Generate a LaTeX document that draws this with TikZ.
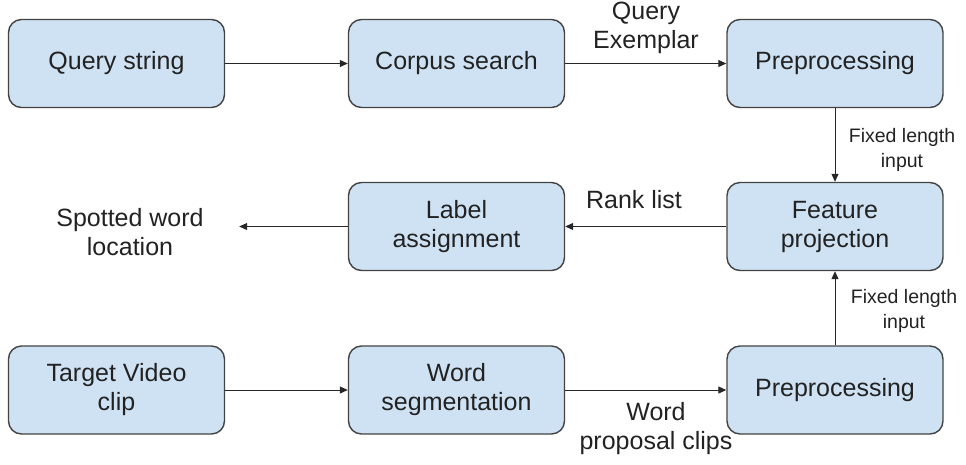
\documentclass[tikz,border=0pt]{standalone}
\usepackage{fontspec}
\setmainfont{Liberation Sans}
\usetikzlibrary{arrows.meta}
\definecolor{boxfill}{HTML}{CFE2F3}
\definecolor{boxline}{HTML}{434343}
\definecolor{txtgray}{HTML}{222222}

\begin{document}
\begin{tikzpicture}[x=1pt, y=-1pt, >={Triangle[length=8pt, width=7pt]},
    stage/.style={draw=boxline, fill=boxfill, line width=1.4pt, rounded corners=13pt,
                  minimum width=216pt, minimum height=88pt, align=center,
                  text=txtgray, font=\fontsize{25}{29}\selectfont},
    lbl/.style={text=txtgray, align=center, font=\fontsize{25}{29}\selectfont},
    note/.style={text=txtgray, align=center, font=\fontsize{19.5}{25}\selectfont},
    arr/.style={->, line width=1pt, black!85}]

  \useasboundingbox (0,0) rectangle (966,464);

  %% Query branch (top row)
  \node[stage] (qstr)    at (116.5, 63.5) {Query string};
  \node[stage] (csearch) at (456.5, 63.5) {Corpus search};
  \node[stage] (prepq)   at (835.0, 63.5) {Preprocessing};
  \draw[arr] (qstr) -- (csearch);
  \draw[arr] (csearch) -- (prepq);
  \node[lbl] at (646, 28) {Query\\Exemplar};

  %% Matching (middle row)
  \node[stage] (feat)  at (835.0, 226.5) {Feature\\projection};
  \node[stage] (label) at (456.5, 226.5) {Label\\assignment};
  \node[lbl]   (spot)  at (130, 232) {Spotted word\\location};
  \draw[arr] (prepq) -- (feat);
  \draw[arr] (feat) -- (label);
  \draw[arr, shorten >=32pt] (label) -- (spot.east |- label);
  \node[note] at (902, 150) {Fixed length\\input};
  \node[lbl]  at (634, 200) {Rank list};

  %% Target branch (bottom row)
  \node[stage] (target) at (116.5, 390) {Target Video\\clip};
  \node[stage] (wseg)   at (456.5, 390) {Word\\segmentation};
  \node[stage] (prepw)  at (835.0, 390) {Preprocessing};
  \draw[arr] (target) -- (wseg);
  \draw[arr] (wseg) -- (prepw);
  \draw[arr] (prepw) -- (feat);
  \node[lbl]  at (656, 429) {Word\\proposal clips};
  \node[note] at (904, 311) {Fixed length\\input};
\end{tikzpicture}
\end{document}
